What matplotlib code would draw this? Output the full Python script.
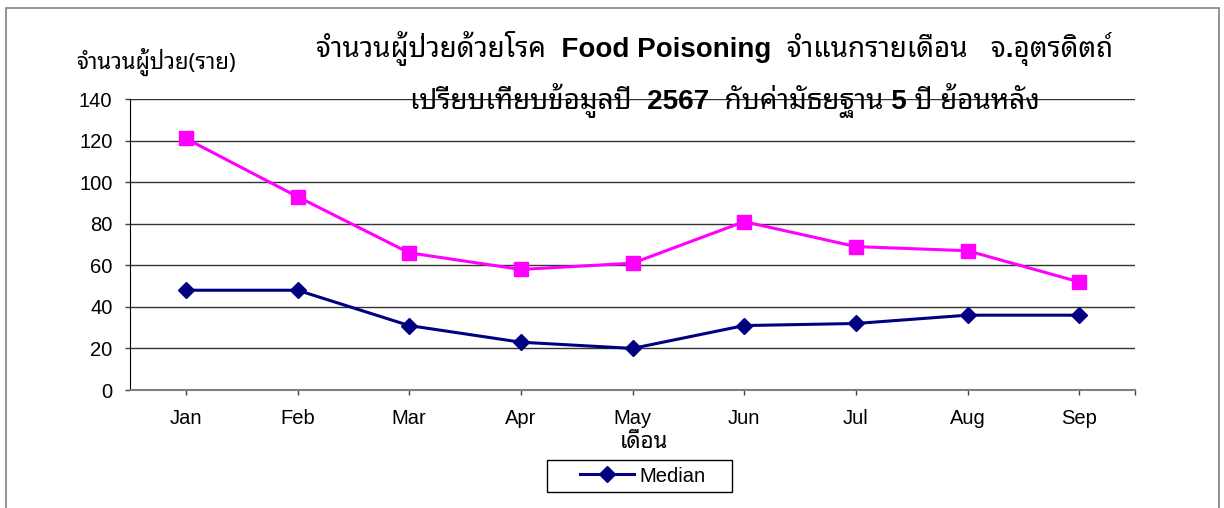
import matplotlib
matplotlib.use("Agg")
import matplotlib.pyplot as plt
from matplotlib.patches import Rectangle

months = ["Jan", "Feb", "Mar", "Apr", "May", "Jun", "Jul", "Aug", "Sep"]
cases_2567 = [121, 93, 66, 58, 61, 81, 69, 67, 52]
median_5y = [48, 48, 31, 23, 20, 31, 32, 36, 36]
y_ticks = [0, 20, 40, 60, 80, 100, 120, 140]

title1 = "จำนวนผู้ป่วยด้วยโรค  Food Poisoning  จำแนกรายเดือน   จ.อุตรดิตถ์"
title2 = "เปรียบเทียบข้อมูลปี  2567  กับค่ามัธยฐาน 5 ปี ย้อนหลัง"
ylabel = "จำนวนผู้ป่วย(ราย)"
xlabel = "เดือน"

MIX = ['Liberation Sans', 'Noto Sans Thai Looped', 'DejaVu Sans']
THAI = ['Noto Sans Thai Looped', 'DejaVu Sans']

W, H = 1224, 508
fig = plt.figure(figsize=(W/100, H/100), dpi=100)
fig.patches.append(Rectangle((6/W, -0.05), (1219-6)/W, 1.05 - 8/H, transform=fig.transFigure,
                             fill=False, edgecolor='#808080', linewidth=1.2))

ax = fig.add_axes([130/W, 1-390/H, (1135-130)/W, (390-99)/H])
x = list(range(len(months)))
ax.plot(x, cases_2567, color='#FF00FF', linewidth=2.2, marker='s', markersize=9.5,
        markerfacecolor='#FF00FF', markeredgecolor='#FF00FF', label='2567', zorder=3)
l_med, = ax.plot(x, median_5y, color='#000080', linewidth=2.2, marker='D', markersize=8.5,
                 markerfacecolor='#000080', markeredgecolor='#000080', label='Median', zorder=3)

ax.set_xlim(-0.5, len(months) - 0.5)
ax.set_ylim(0, 140)
ax.set_yticks(y_ticks)
ax.set_xticks(x)
ax.set_xticks([len(months) - 0.5], minor=True)
ax.set_xticklabels(months, family='Liberation Sans', fontsize=14.5)
ax.set_yticklabels([str(v) for v in y_ticks], family='Liberation Sans', fontsize=14.5)
ax.tick_params(axis='y', length=3.6, width=1, color='#404040', pad=9)
ax.tick_params(axis='x', which='both', length=3.6, width=1, color='#404040', pad=10, direction='out')
ax.yaxis.grid(True, color='#333333', linewidth=1)
ax.set_axisbelow(True)
for s in ['top', 'right']:
    ax.spines[s].set_visible(False)
ax.spines['left'].set_color('black')
ax.spines['bottom'].set_color('#808080')
ax.spines['bottom'].set_linewidth(1.5)

fig.text(715/W, 1-48/H, title1, ha='center', va='center', fontsize=20, weight='bold', family=MIX)
fig.text(725/W, 1-101/H, title2, ha='center', va='center', fontsize=20, weight='bold', family=MIX)
fig.text(156/W, 1-62/H, ylabel, ha='center', va='center', fontsize=16, weight='bold', family=THAI)
fig.text(644/W, 1-442/H, xlabel, ha='center', va='center', fontsize=16, weight='bold', family=THAI)

fig.patches.append(Rectangle((547/W, 1-492/H), (732-547)/W, 32/H, transform=fig.transFigure,
                             fill=False, edgecolor='black', linewidth=1))
leg = fig.legend(handles=[l_med], labels=['Median'], loc='center', bbox_to_anchor=(643/W, 1-476/H),
                 prop={'family': 'Liberation Sans', 'size': 14.5}, frameon=False,
                 handlelength=2.65, borderpad=0.2, handletextpad=0.3, borderaxespad=0)

fig.savefig("out.png", dpi=100)
